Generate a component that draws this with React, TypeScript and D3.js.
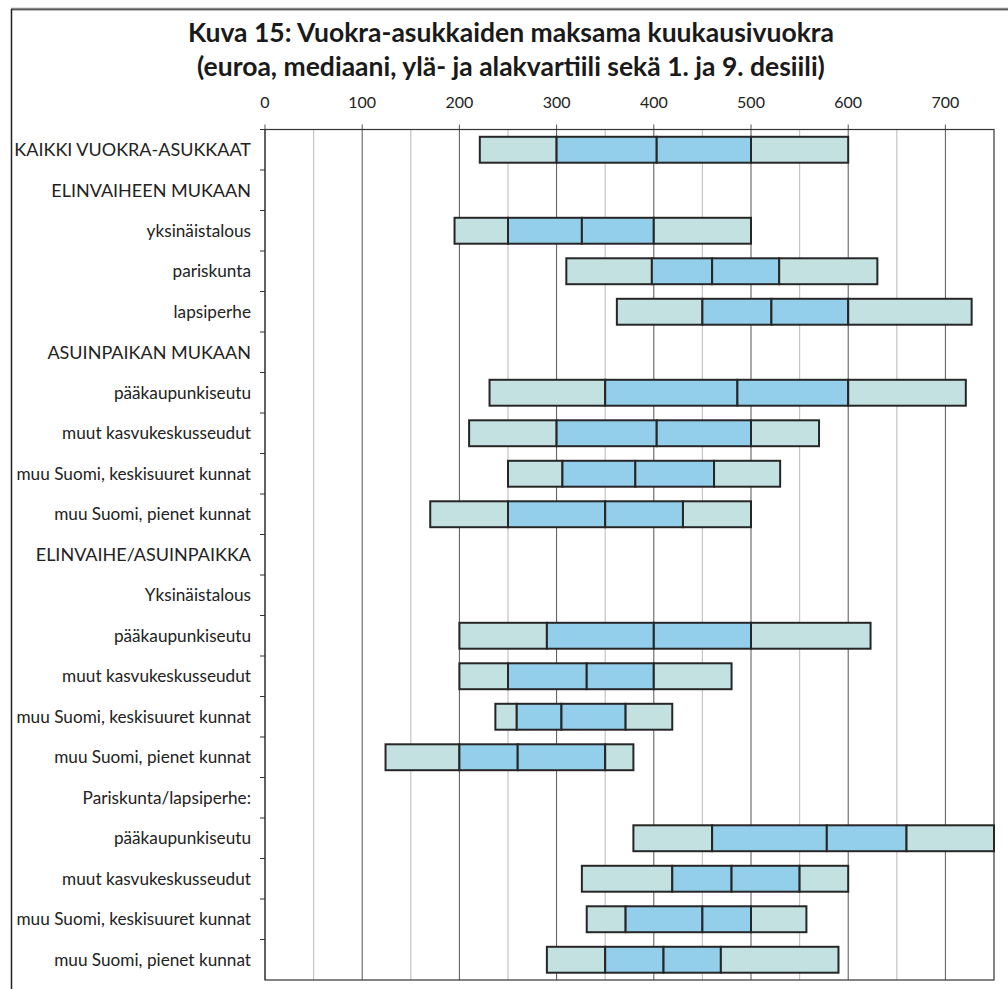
import React from "react";
import * as d3 from "d3";

const categories: string[] = [
  "KAIKKI VUOKRA-ASUKKAAT",
  "ELINVAIHEEN MUKAAN",
  "yksinäistalous",
  "pariskunta",
  "lapsiperhe",
  "ASUINPAIKAN MUKAAN",
  "pääkaupunkiseutu",
  "muut kasvukeskusseudut",
  "muu Suomi, keskisuuret kunnat",
  "muu Suomi, pienet kunnat",
  "ELINVAIHE/ASUINPAIKKA",
  "Yksinäistalous",
  "pääkaupunkiseutu",
  "muut kasvukeskusseudut",
  "muu Suomi, keskisuuret kunnat",
  "muu Suomi, pienet kunnat",
  "Pariskunta/lapsiperhe:",
  "pääkaupunkiseutu",
  "muut kasvukeskusseudut",
  "muu Suomi, keskisuuret kunnat",
  "muu Suomi, pienet kunnat",
];

// 1. desiili
const decile1: (number | null)[] = [221, null, 195, 310, 362, null, 231, 210, 250, 170, null, null, 200, 200, 237, 124, null, 379, 326, 331, 290];
// alakvartiili
const quartile1: (number | null)[] = [300, null, 250, 398, 450, null, 350, 300, 306, 250, null, null, 290, 250, 259, 200, null, 460, 419, 371, 350];
// mediaani
const median: (number | null)[] = [403, null, 326, 460, 521, null, 486, 403, 381, 350, null, null, 400, 331, 305, 260, null, 578, 480, 450, 410];
// yläkvartiili
const quartile3: (number | null)[] = [500, null, 400, 529, 600, null, 600, 500, 462, 430, null, null, 500, 400, 371, 350, null, 660, 550, 500, 469];
// 9. desiili
const decile9: (number | null)[] = [600, null, 500, 630, 727, null, 721, 570, 530, 500, null, null, 623, 480, 419, 379, null, 750, 600, 557, 590];

const xTicks: number[] = [0, 100, 200, 300, 400, 500, 600, 700];
const xMinor: number[] = [50, 150, 250, 350, 450, 550, 650];

const titleLines: string[] = [
  "Kuva 15: Vuokra-asukkaiden maksama kuukausivuokra",
  "(euroa, mediaani, ylä- ja alakvartiili sekä 1. ja 9. desiili)",
];

const W = 1008;
const H = 989;
const FONT = "Lato, 'Open Sans', sans-serif";
const LIGHT = "#c3e1e0";
const BLUE = "#93ceeb";
const STROKE = "#262626";

export default function App() {
  const left = 265;
  const right = 994;
  const top = 129.5;
  const bottom = 980;

  const x = d3.scaleLinear().domain([0, 750]).range([left, right]);
  const y = d3
    .scaleBand<number>()
    .domain(categories.map((_, i) => i))
    .range([top, bottom])
    .paddingInner(0.36)
    .paddingOuter(0.18);
  const step = y.step();
  const rowTop = (i: number) => top + i * step;

  const segments: { i: number; a: number; b: number; fill: string }[] = [];
  categories.forEach((_, i) => {
    const vals = [decile1[i], quartile1[i], median[i], quartile3[i], decile9[i]];
    if (vals.some((v) => v == null)) return;
    const fills = [LIGHT, BLUE, BLUE, LIGHT];
    for (let k = 0; k < 4; k++) {
      segments.push({ i, a: vals[k] as number, b: vals[k + 1] as number, fill: fills[k] });
    }
  });

  const isCaps = (c: string) => c === c.toUpperCase();

  return (
    <svg
      width={W}
      height={H}
      style={{ position: "absolute", left: 0, top: 0, background: "#fff" }}
      fontFamily={FONT}
    >
      {/* outer frame */}
      <line x1={11} x2={W} y1={8.5} y2={8.5} stroke="#888" strokeWidth={1.5} />
      <line x1={11} x2={W} y1={9.8} y2={9.8} stroke="#222" strokeWidth={1} />
      <line x1={11.5} x2={11.5} y1={9} y2={H} stroke="#222" strokeWidth={1.5} />

      {/* title */}
      {titleLines.map((t, k) => (
        <text
          key={k}
          x={511}
          y={42 + k * 34}
          textAnchor="middle"
          fontSize={26.5}
          fontWeight={700}
          fill="#1a1a1a"
        >
          {t}
        </text>
      ))}

      {/* grid */}
      {xMinor.map((v) => (
        <line key={"m" + v} x1={x(v)} x2={x(v)} y1={top} y2={bottom} stroke="#c4c4c4" strokeWidth={1.2} />
      ))}
      {xTicks.map((v) => (
        <line key={"g" + v} x1={x(v)} x2={x(v)} y1={top - 5} y2={bottom} stroke="#555" strokeWidth={1} />
      ))}

      {/* x tick labels */}
      {xTicks.map((v) => (
        <text key={"t" + v} x={x(v)} y={108} textAnchor="middle" fontSize={16} fill="#222">
          {v}
        </text>
      ))}

      {/* plot border */}
      <rect x={left} y={top} width={right - left} height={bottom - top} fill="none" stroke="#333" strokeWidth={1.2} />

      {/* y ticks */}
      {categories.map((_, i) => (
        <line key={"yt" + i} x1={left - 5} x2={left} y1={rowTop(i)} y2={rowTop(i)} stroke="#333" strokeWidth={1} />
      ))}

      {/* category labels */}
      {categories.map((c, i) => (
        <text
          key={"c" + i}
          x={251}
          y={rowTop(i) + step / 2}
          dy="0.35em"
          textAnchor="end"
          fontSize={isCaps(c) ? 18 : 17.2}
          fill="#222"
        >
          {c}
        </text>
      ))}

      {/* boxes */}
      {segments.map((s, k) => (
        <rect
          key={"s" + k}
          x={x(s.a)}
          y={y(s.i)}
          width={x(s.b) - x(s.a)}
          height={y.bandwidth()}
          fill={s.fill}
          stroke={STROKE}
          strokeWidth={2}
        />
      ))}
    </svg>
  );
}
